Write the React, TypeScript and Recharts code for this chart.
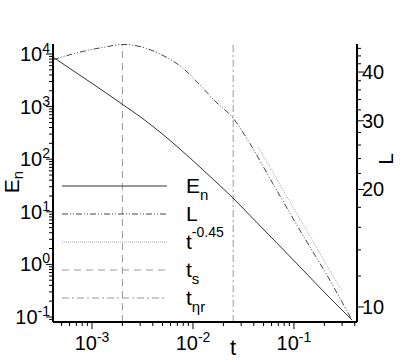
import React from 'react'
import { ComposedChart, Line, XAxis, YAxis, ReferenceLine } from 'recharts'

// E_n (left axis) and L (right axis) against t
const times = [4.11e-4, 6.05e-4, 9.55e-4, 1.38e-3, 1.98e-3, 2.99e-3, 4.71e-3, 7.43e-3, 0.0117, 0.0165, 0.0249, 0.0367, 0.0619, 0.115, 0.227, 0.375]
const energy = [8770, 5280, 2940, 1815, 1120, 646, 329, 156, 71.1, 38.5, 18.3, 8.5, 3.04, 0.893, 0.23, 0.0877]
const lengthScale = [43.0, 44.3, 45.6, 46.4, 47.1, 46.5, 44.5, 41.5, 37.1, 33.7, 30.5, 26.2, 20.7, 15.7, 11.7, 9.26]

// t^-0.45 guide, plotted against the L axis
const guideTimes = [0.0441, 0.297]
const guideLength = [25.7, 11.0]

const tS = 0.002
const tEtaR = 0.025

const xDecades = [1e-3, 1e-2, 1e-1]
const xExponents = ['-3', '-2', '-1']
const yDecades = [1e-1, 1, 10, 100, 1e3, 1e4]
const yExponents = ['-1', '0', '1', '2', '3', '4']
const lMajor = [10, 20, 30, 40]
const lMinor = [12, 14, 16, 18, 22, 24, 26, 28, 32, 34, 36, 38, 42, 44, 46]
const minorSteps = [2, 3, 4, 5, 6, 7, 8, 9]

const xDomain = [4.11e-4, 0.421]
const yDomain = [0.0803, 15500]
const lDomain = [9.15, 47.2]

const FONT = '"Liberation Sans", Arial, Helvetica, sans-serif'

const mainRows = times.map((t, i) => ({ t, E: energy[i], L: lengthScale[i] }))
const guideRows = guideTimes.map((t, i) => ({ t, G: guideLength[i] }))

function logTicks(decades: number[], lo: number, hi: number) {
  const out: number[] = []
  const all = [decades[0] / 10, ...decades]
  all.forEach((d) => {
    minorSteps.forEach((m) => {
      const v = parseFloat((d * m).toPrecision(3))
      if (v >= lo && v <= hi) out.push(v)
    })
  })
  decades.forEach((d) => out.push(d))
  return out.sort((a, b) => a - b)
}

const xTicks = logTicks(xDecades, xDomain[0], xDomain[1])
const yTicks = logTicks(yDecades, yDomain[0], yDomain[1])
const lTicks = [...lMajor, ...lMinor].sort((a, b) => a - b)

const close = (a: number, b: number) => Math.abs(a - b) <= Math.abs(b) * 1e-6

function BottomTick(props: any) {
  const { x, y, payload } = props
  const i = xDecades.findIndex((d) => close(payload.value, d))
  return (
    <g>
      <line x1={x} x2={x} y1={y} y2={y + (i >= 0 ? 7 : 4)} stroke="#000" />
      {i >= 0 && (
        <text x={x} y={y + 28} textAnchor="middle" fontSize={20} fontFamily={FONT} fill="#000">
          10<tspan dy={-8} fontSize={14}>{xExponents[i]}</tspan>
        </text>
      )}
    </g>
  )
}

function LeftTick(props: any) {
  const { x, y, payload } = props
  const i = yDecades.findIndex((d) => close(payload.value, d))
  return (
    <g>
      <line x1={x} x2={x - (i >= 0 ? 7 : 4)} y1={y} y2={y} stroke="#000" />
      {i >= 0 && (
        <text x={x - 3} y={y + 7} textAnchor="end" fontSize={20} fontFamily={FONT} fill="#000">
          10<tspan dy={-8} fontSize={14}>{yExponents[i]}</tspan>
        </text>
      )}
    </g>
  )
}

function RightTick(props: any) {
  const { x, y, payload } = props
  const major = lMajor.includes(payload.value)
  return (
    <g>
      <line x1={x} x2={x + (major ? 7 : 4)} y1={y} y2={y} stroke="#000" />
      {major && (
        <text x={x + 5} y={y + 7} textAnchor="start" fontSize={20} fontFamily={FONT} fill="#000">
          {payload.value}
        </text>
      )}
    </g>
  )
}

const legendItems = [
  { y: 186, stroke: '#333', dash: undefined, label: 'E', sub: 'n', sup: '' },
  { y: 214, stroke: '#444', dash: '6 2 1 2 1 2', label: 'L', sub: '', sup: '' },
  { y: 242, stroke: '#aaa', dash: '1 1', label: 't', sub: '', sup: '-0.45' },
  { y: 270, stroke: '#999', dash: '7 5', label: 't', sub: 's', sup: '' },
  { y: 298, stroke: '#999', dash: '7 3 2 3', label: 't', sub: 'ηr', sup: '' },
]

export default function App() {
  return (
    <div style={{ position: 'absolute', left: 0, top: 0, width: 407, height: 362, background: '#fff' }}>
      <ComposedChart width={407} height={362} data={mainRows} margin={{ top: 44, right: 0, bottom: 0, left: 0 }}>
        <XAxis
          dataKey="t"
          type="number"
          scale="log"
          domain={xDomain}
          allowDataOverflow
          ticks={xTicks}
          interval={0}
          tick={<BottomTick />}
          tickLine={false}
          tickSize={0}
          tickMargin={0}
          height={40}
          axisLine={{ stroke: '#000', strokeWidth: 2 }}
        />
        <YAxis
          yAxisId="left"
          orientation="left"
          type="number"
          scale="log"
          domain={yDomain}
          allowDataOverflow
          ticks={yTicks}
          interval={0}
          tick={<LeftTick />}
          tickLine={false}
          tickSize={0}
          tickMargin={0}
          width={53}
          axisLine={{ stroke: '#000', strokeWidth: 2 }}
        />
        <YAxis
          yAxisId="right"
          orientation="right"
          type="number"
          scale="log"
          domain={lDomain}
          allowDataOverflow
          ticks={lTicks}
          interval={0}
          tick={<RightTick />}
          tickLine={false}
          tickSize={0}
          tickMargin={0}
          width={50}
          axisLine={{ stroke: '#000', strokeWidth: 2 }}
        />
        <ReferenceLine x={tS} yAxisId="left" stroke="#999" strokeWidth={1} strokeDasharray="7 5" />
        <ReferenceLine x={tEtaR} yAxisId="left" stroke="#999" strokeWidth={1} strokeDasharray="7 3 2 3" />
        <Line
          yAxisId="left"
          dataKey="E"
          type="monotone"
          stroke="#333"
          strokeWidth={1}
          dot={false}
          isAnimationActive={false}
        />
        <Line
          yAxisId="right"
          dataKey="L"
          type="monotone"
          stroke="#444"
          strokeWidth={1}
          strokeDasharray="6 2 1 2 1 2"
          dot={false}
          isAnimationActive={false}
        />
        <Line
          yAxisId="right"
          data={guideRows}
          dataKey="G"
          type="linear"
          stroke="#aaa"
          strokeWidth={1}
          strokeDasharray="1 1"
          dot={false}
          isAnimationActive={false}
        />
      </ComposedChart>
      <svg
        width={407}
        height={362}
        style={{ position: 'absolute', left: 0, top: 0, pointerEvents: 'none' }}
        fontFamily={FONT}
      >
        {legendItems.map((it) => (
          <g key={it.y}>
            <line x1={62} x2={167} y1={it.y} y2={it.y} stroke={it.stroke} strokeDasharray={it.dash} />
            <text x={186} y={it.y + 7} fontSize={21} fill="#000">
              {it.label}
              {it.sub && <tspan dy={7} fontSize={15}>{it.sub}</tspan>}
              {it.sup && <tspan dy={-12} fontSize={14}>{it.sup}</tspan>}
            </text>
          </g>
        ))}
        <text transform="translate(18.5,182) rotate(-90)" textAnchor="middle" fontSize={21} fill="#000">
          E<tspan dy={4} fontSize={15}>n</tspan>
        </text>
        <text transform="translate(393,159) rotate(-90)" textAnchor="middle" fontSize={21} fill="#000">
          L
        </text>
        <text x={233} y={355} textAnchor="middle" fontSize={22} fill="#000">
          t
        </text>
      </svg>
    </div>
  )
}
